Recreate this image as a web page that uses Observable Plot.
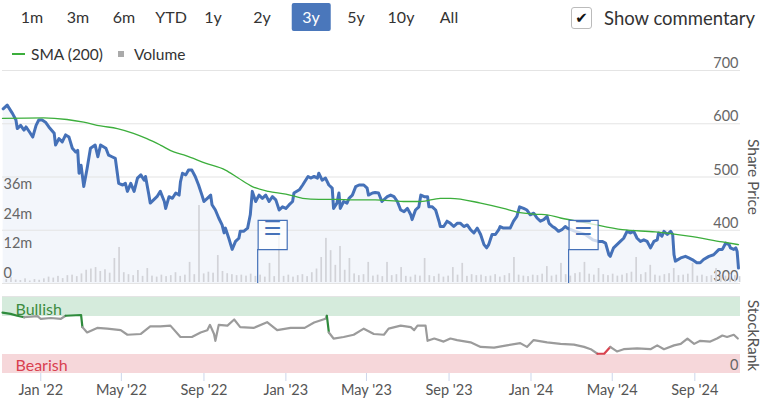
<!DOCTYPE html>
<html><head><meta charset="utf-8">
<script src="https://cdn.jsdelivr.net/npm/d3@7"></script>
<script src="https://cdn.jsdelivr.net/npm/@observablehq/plot@0.6"></script>
<style>
body{margin:0;background:#fff;font-family:Lato,sans-serif;}
#wrap{position:relative;width:762px;height:398px;overflow:hidden;background:#fff;}
.btn{position:absolute;top:3px;height:28px;line-height:28px;font-size:16px;color:#333;transform:translateX(-50%);white-space:nowrap;border-radius:2px;}
.btn.sel{background:#4a77bb;color:#fff;padding:0 10.5px;}
.lg{position:absolute;top:44px;height:20px;line-height:20px;font-size:15.5px;color:#333;white-space:nowrap;}
#wrap svg{position:absolute;left:0;}
</style></head><body><div id="wrap"></div>
<script>
// ---------- data ----------
const priceDates = ["2021-11-06","2021-11-12","2021-11-20","2021-11-25","2021-11-27","2021-12-02","2021-12-07","2021-12-10","2021-12-15","2021-12-20","2021-12-25","2021-12-29","2022-01-03","2022-01-08","2022-01-13","2022-01-21","2022-01-23","2022-01-28","2022-02-02","2022-02-07","2022-02-12","2022-02-17","2022-02-22","2022-02-25","2022-02-27","2022-03-02","2022-03-06","2022-03-11","2022-03-16","2022-03-23","2022-03-27","2022-03-31","2022-04-08","2022-04-12","2022-04-17","2022-04-22","2022-04-25","2022-04-27","2022-05-03","2022-05-07","2022-05-10","2022-05-15","2022-05-20","2022-05-25","2022-05-30","2022-06-04","2022-06-06","2022-06-11","2022-06-13","2022-06-18","2022-06-23","2022-06-28","2022-07-04","2022-07-06","2022-07-11","2022-07-16","2022-07-21","2022-07-26","2022-07-28","2022-07-31","2022-08-05","2022-08-09","2022-08-14","2022-08-19","2022-08-24","2022-08-29","2022-09-01","2022-09-06","2022-09-11","2022-09-13","2022-09-18","2022-09-23","2022-09-28","2022-10-01","2022-10-03","2022-10-08","2022-10-13","2022-10-18","2022-10-23","2022-10-25","2022-10-30","2022-11-05","2022-11-09","2022-11-12","2022-11-17","2022-11-22","2022-11-27","2022-12-02","2022-12-07","2022-12-12","2022-12-17","2022-12-22","2022-12-27","2023-01-01","2023-01-06","2023-01-11","2023-01-13","2023-01-21","2023-01-26","2023-01-29","2023-02-03","2023-02-07","2023-02-12","2023-02-17","2023-02-19","2023-02-24","2023-03-01","2023-03-06","2023-03-11","2023-03-13","2023-03-18","2023-03-21","2023-03-23","2023-03-28","2023-04-02","2023-04-05","2023-04-10","2023-04-15","2023-04-20","2023-04-27","2023-05-02","2023-05-04","2023-05-10","2023-05-14","2023-05-19","2023-05-24","2023-06-01","2023-06-06","2023-06-11","2023-06-16","2023-06-21","2023-06-26","2023-07-01","2023-07-06","2023-07-08","2023-07-13","2023-07-18","2023-07-21","2023-07-26","2023-07-31","2023-08-02","2023-08-07","2023-08-12","2023-08-17","2023-08-19","2023-08-24","2023-08-29","2023-09-03","2023-09-08","2023-09-13","2023-09-18","2023-09-23","2023-09-28","2023-10-03","2023-10-08","2023-10-13","2023-10-18","2023-10-23","2023-10-27","2023-10-30","2023-11-04","2023-11-09","2023-11-14","2023-11-16","2023-11-21","2023-11-26","2023-12-01","2023-12-06","2023-12-11","2023-12-15","2023-12-21","2023-12-26","2023-12-31","2024-01-05","2024-01-10","2024-01-15","2024-01-20","2024-01-25","2024-01-28","2024-02-02","2024-02-06","2024-02-11","2024-02-16","2024-02-21","2024-02-24","2024-03-07","2024-03-22","2024-04-02","2024-04-11","2024-04-16","2024-04-21","2024-04-26","2024-04-28","2024-05-03","2024-05-08","2024-05-13","2024-05-18","2024-05-23","2024-05-28","2024-06-02","2024-06-07","2024-06-12","2024-06-17","2024-06-22","2024-06-27","2024-07-02","2024-07-07","2024-07-09","2024-07-14","2024-07-17","2024-07-22","2024-07-27","2024-07-30","2024-08-01","2024-08-03","2024-08-11","2024-08-18","2024-08-23","2024-08-28","2024-09-04","2024-09-09","2024-09-14","2024-09-22","2024-09-29","2024-10-07","2024-10-12","2024-10-17","2024-10-22","2024-10-24","2024-10-29","2024-11-01","2024-11-03","2024-11-05"];
const priceValues = [628,635,619,607,591,597,588,594,585,575,597,607,607,603,594,582,560,572,566,579,575,554,547,550,507,522,482,516,554,560,538,560,554,541,538,535,507,488,485,488,473,488,473,498,504,494,501,466,451,457,463,473,454,441,463,460,470,466,491,507,504,513,513,501,485,466,454,460,466,448,438,423,410,395,404,385,364,379,385,398,398,404,429,473,454,466,460,466,454,463,457,438,444,441,448,454,470,476,485,491,501,498,501,498,507,494,498,485,479,441,451,470,441,454,451,460,466,482,485,485,479,466,470,471,470,454,463,466,463,454,438,435,441,429,420,438,444,466,463,463,444,444,438,417,407,407,417,413,407,413,413,407,410,401,395,404,392,373,367,373,392,392,401,407,404,404,404,417,426,444,441,438,429,432,423,417,420,426,413,407,404,398,401,407,404,398,392,382,379,379,376,354,351,367,373,379,385,398,395,398,385,379,382,379,367,379,382,395,389,398,392,398,392,354,342,348,351,348,345,339,339,345,351,354,364,364,376,373,367,364,367,360,329];

const smaDates = ["2021-11-05","2022-01-05","2022-02-09","2022-03-06","2022-03-31","2022-04-25","2022-05-19","2022-06-08","2022-06-28","2022-07-18","2022-08-05","2022-09-03","2022-10-03","2022-10-22","2022-11-12","2022-12-06","2023-01-01","2023-01-26","2023-02-19","2023-03-16","2023-04-10","2023-05-14","2023-06-25","2023-07-21","2023-08-19","2023-09-03","2023-10-18","2023-11-21","2023-12-11","2024-01-10","2024-01-25","2024-02-14","2024-03-27","2024-05-16","2024-07-04","2024-08-23","2024-10-12","2024-11-05"];
const smaValues = [610,611,608,603,596,591,582,572,560,547,540,526,513,498,482,473,468,460,458,458,457,457,454,454,460,460,451,441,434,430,429,423,413,401,397,389,378,373];

const volumeStart = "2021-11-08"; // first weekly bar
const volumeWeekly = [ // millions of shares
  1.2,2.0,1.0,0.8,1.5,0.6,1.2,0.9,1.5,2.2,
  1.8,2.5,1.6,2.8,3.0,2.4,3.5,5.0,5.5,6.1,
  4.5,5.2,3.8,9.8,14.3,4.0,3.2,2.8,4.9,2.5,
  5.7,2.6,2.2,3.0,2.4,2.8,4.0,2.5,3.0,8.2,
  3.2,31.4,3.5,4.2,3.8,11.0,4.5,3.6,3.2,2.8,
  3.0,2.6,3.4,2.5,3.0,2.2,7.8,2.4,19.2,2.5,
  3.0,2.2,2.8,3.2,2.4,4.0,5.5,10.2,18.0,13.0,
  7.0,14.7,5.0,9.8,3.5,2.8,3.2,8.2,2.6,3.0,
  2.4,8.2,2.8,3.2,6.1,2.5,2.2,3.0,2.6,9.8,
  2.8,2.4,3.4,2.2,2.6,6.1,3.0,7.8,2.5,3.2,
  2.8,3.0,2.4,2.6,3.2,2.2,2.8,3.6,10.2,3.0,
  2.6,2.4,3.0,2.8,3.4,6.5,2.6,3.0,7.8,3.2,
  2.6,3.6,4.0,8.2,3.4,3.0,5.7,3.2,2.8,3.4,
  2.6,3.0,3.6,4.2,10.2,3.2,4.0,7.0,3.0,2.6,
  3.2,3.6,5.7,2.8,3.0,3.4,7.8,2.6,3.0,2.4,
  2.8,5.7,3.0,2.6,3.2,2.8,2.4];

const rankDates = ["2021-11-05","2021-11-17","2021-11-27","2021-12-07","2021-12-27","2022-01-01","2022-01-16","2022-01-31","2022-02-07","2022-03-02","2022-03-04","2022-03-11","2022-03-26","2022-04-10","2022-04-30","2022-05-10","2022-05-30","2022-06-13","2022-06-28","2022-07-13","2022-07-28","2022-08-14","2022-08-27","2022-09-06","2022-09-10","2022-09-16","2022-09-18","2022-09-23","2022-10-06","2022-10-16","2022-10-25","2022-11-14","2022-12-04","2022-12-19","2023-01-08","2023-01-29","2023-02-12","2023-03-01","2023-03-03","2023-03-06","2023-03-13","2023-03-28","2023-04-12","2023-04-27","2023-05-12","2023-05-27","2023-06-03","2023-06-12","2023-06-21","2023-07-06","2023-07-11","2023-07-16","2023-07-28","2023-07-31","2023-08-10","2023-08-24","2023-09-03","2023-09-13","2023-10-03","2023-10-18","2023-11-07","2023-11-26","2023-12-16","2023-12-26","2024-01-05","2024-01-25","2024-02-14","2024-03-05","2024-03-20","2024-03-30","2024-04-09","2024-04-19","2024-04-28","2024-05-08","2024-05-18","2024-06-07","2024-06-27","2024-07-07","2024-07-17","2024-08-01","2024-08-11","2024-08-21","2024-08-31","2024-09-09","2024-09-24","2024-10-04","2024-10-12","2024-10-19","2024-10-29","2024-11-04"];
const rankValues = [80,78.5,76,74,75.5,72,73,72,76,77,61,54,60,59,57,51,52,62,62,63,48,48,54,57,64,52,43,64,63,71,61,60,67.5,57,60,60,67,72,76,54,46,48,51,59,52,51,59,61,63,61,57,63,63,43,46,42,46,44,41,35,34,37,40,35,44,41,39,38,35,32,26,26,35,29,32,33,32,37,32,37,39,46,39,43,42,46,50,48,51,46];

const flagDates = ["2022-11-20","2024-02-26"];
const priceTicks = [300,400,500,600,700];
const volumeTicks = [0,12,24,36];
const volumeTickLabels = ["0","12m","24m","36m"];
const monthTicks = ["2022-01-01","2022-05-01","2022-09-01","2023-01-01","2023-05-01","2023-09-01","2024-01-01","2024-05-01","2024-09-01"];
const rangeButtons = ["1m","3m","6m","YTD","1y","2y","3y","5y","10y","All"];
const selectedRange = "3y";
const bullishBand = [75,100];
const bearishBand = [0,25];
const xStart = "2021-11-05", xEnd = "2024-11-08";

// ---------- tables ----------
const parse = d3.utcParse("%Y-%m-%d");
const price = priceDates.map((d,i)=>({date:parse(d), value:priceValues[i]}));
const sma = smaDates.map((d,i)=>({date:parse(d), value:smaValues[i]}));
const vol = volumeWeekly.map((v,i)=>{const s=d3.utcDay.offset(parse(volumeStart),7*i);return {date:s,end:d3.utcDay.offset(s,7),v};});
const rank = rankDates.map((d,i)=>({date:parse(d), value:rankValues[i]}));
const flags = flagDates.map(d=>({date:parse(d)}));
const xDomain = [parse(xStart), parse(xEnd)];
const bands = [
  {x1:xDomain[0],x2:xDomain[1],lo:bullishBand[0],hi:bullishBand[1],fill:"#d5ebdc"},
  {x1:xDomain[0],x2:xDomain[1],lo:bearishBand[0],hi:bearishBand[1],fill:"#f6d7da"}
];

const W = 762, FONT = "Lato, sans-serif";
const wrap = document.getElementById("wrap");
const baseStyle = {fontFamily:FONT, fontSize:"14.5px", background:"transparent", overflow:"visible"};
const blue = "#4571b8", green = "#3cae3c";

// ---------- header: range buttons, checkbox ----------
const btnX = [32,78,124,171,213,262,311,356,401,449];
rangeButtons.forEach((b,i)=>{
  const el=document.createElement("div");
  el.className="btn"+(b===selectedRange?" sel":"");
  el.style.left=btnX[i]+"px"; el.textContent=b; wrap.appendChild(el);
});
const cb=document.createElement("div");
cb.style.cssText="position:absolute;left:571px;top:7px;width:19px;height:20px;border:1px solid #bbb;border-radius:3px;background:#fff;font-size:15px;line-height:20px;text-align:center;color:#111;font-family:'DejaVu Sans'";
cb.textContent="✔"; wrap.appendChild(cb);
const sc=document.createElement("div");
sc.style.cssText="position:absolute;left:604px;top:6px;font-size:18.5px;line-height:24px;color:#333;white-space:nowrap";
sc.textContent="Show commentary"; wrap.appendChild(sc);

// legend
const lgLine=document.createElement("div");
lgLine.style.cssText=`position:absolute;left:12px;top:53px;width:13px;height:1.5px;background:${green}`;
wrap.appendChild(lgLine);
const lg1=document.createElement("div"); lg1.className="lg"; lg1.style.left="31px"; lg1.textContent="SMA (200)"; wrap.appendChild(lg1);
const lgSq=document.createElement("div");
lgSq.style.cssText="position:absolute;left:118px;top:51px;width:6px;height:6px;background:#aaa";
wrap.appendChild(lgSq);
const lg2=document.createElement("div"); lg2.className="lg"; lg2.style.left="134px"; lg2.textContent="Volume"; wrap.appendChild(lg2);

// ---------- main panel (three overlaid layers) ----------
const mainCommon = {width:W, height:230, marginLeft:2, marginRight:22, marginTop:10,
  x:{type:"utc", domain:xDomain, axis:null}, style:baseStyle};

const bg = Plot.plot({...mainCommon, marginBottom:7, y:{domain:[300,700], axis:null},
  marks:[
    Plot.areaY(price,{x:"date", y1:300, y2:"value", fill:"#f3f6fb"}),
    Plot.ruleY(priceTicks,{y:d=>d, stroke:"#e4e4e4", strokeWidth:1.2}),
    Plot.text(priceTicks,{y:d=>d, text:d=>String(d), frameAnchor:"right", textAnchor:"end", dx:-2, dy:-7, fill:"#666"}),
    Plot.text(["Share Price"],{text:d=>d, frameAnchor:"right", textAnchor:"middle", dx:12, rotate:90, fontSize:15.5, fill:"#555"})
  ]});

const volPlot = Plot.plot({...mainCommon, marginBottom:8, y:{domain:[0,86.5], axis:null},
  marks:[
    Plot.rectY(vol,{x1:"date", x2:"end", y1:0, y2:"v", fill:"#d2d3d8", insetLeft:1.4, insetRight:1.6}),
    Plot.text(volumeTicks,{y:d=>d, text:(d,i)=>volumeTickLabels[i], frameAnchor:"left", textAnchor:"start", dx:1, dy:-9.5, fill:"#666"})
  ]});

const fg = Plot.plot({...mainCommon, marginBottom:7, y:{domain:[300,700], axis:null},
  marks:[
    Plot.line(price,{x:"date", y:"value", stroke:blue, strokeWidth:3, strokeLinejoin:"round"}),
    Plot.line(sma,{x:"date", y:"value", stroke:green, strokeWidth:1.3, curve:"monotone-x"}),
    Plot.ruleX(flags,{x:"date", stroke:blue, strokeWidth:1.2, insetTop:179}),
    Plot.dot(flags,{x:"date", frameAnchor:"bottom", dx:15, dy:-48.5, symbol:"square", r:16.4, fill:"white", fillOpacity:0.75, stroke:blue, strokeWidth:1.2}),
    Plot.text(flags,{x:"date", text:()=>"☰", frameAnchor:"bottom", dx:15, dy:-48.5, fill:blue, fontSize:20, fontFamily:"DejaVu Sans"})
  ]});

[bg, volPlot, fg].forEach(s=>{s.style.top="60px"; wrap.appendChild(s);});

// ---------- StockRank panel ----------
const rankColor = d => d.value >= 76 ? "#2e8b3c" : d.value <= 27 ? "#d9434f" : "#9b9b9b";
const sr = Plot.plot({width:W, height:113, marginLeft:2, marginRight:22, marginTop:12, marginBottom:25,
  style:{...baseStyle, color:"#555"},
  x:{type:"utc", domain:xDomain, ticks:monthTicks.map(parse), tickFormat:d3.utcFormat("%b '%y"), tickSize:8, tickPadding:3, label:null},
  y:{domain:[0,100], axis:null},
  color:{type:"identity"},
  marks:[
    Plot.rect(bands,{x1:"x1", x2:"x2", y1:"lo", y2:"hi", fill:"fill"}),
    Plot.ruleY([100],{y:d=>d, stroke:"#e4e4e4", strokeWidth:1.2, dy:-1}),
    Plot.line(rank,{x:"date", y:"value", z:null, stroke:rankColor, strokeWidth:2.2}),
    Plot.text(["Bullish"],{text:d=>d, y:84, frameAnchor:"left", textAnchor:"start", dx:13, fill:"#3d8b40", fontSize:16}),
    Plot.text(["Bearish"],{text:d=>d, y:10.5, frameAnchor:"left", textAnchor:"start", dx:13, fill:"#d9404f", fontSize:16}),
    Plot.text([0],{y:d=>d, text:d=>String(d), frameAnchor:"right", textAnchor:"end", dx:-2, dy:-8, fill:"#666"}),
    Plot.text(["StockRank"],{text:d=>d, frameAnchor:"right", textAnchor:"middle", dx:12, rotate:90, fontSize:15.5, fill:"#555"})
  ]});
sr.style.top="285px";
d3.select(sr).selectAll("g[aria-label^='x-axis'] line, g[aria-label^='x-axis'] path").attr("stroke","#ccd6eb");
d3.select(sr).selectAll("g[aria-label^='x-axis'] text").attr("fill","#555");
wrap.appendChild(sr);
</script></body></html>
